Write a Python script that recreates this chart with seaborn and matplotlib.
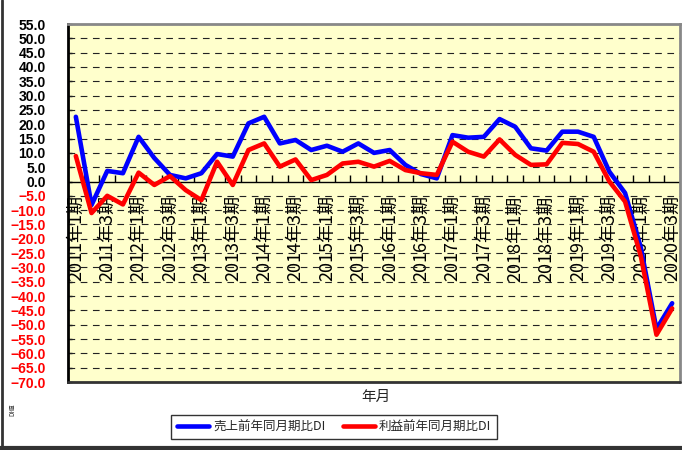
import numpy as np
import pandas as pd
import matplotlib
matplotlib.use('Agg')
import matplotlib.pyplot as plt
from matplotlib.ticker import FixedLocator
import seaborn as sns

# quarterly DI values, 2011 Q1 .. 2020 Q3
sales_di = [22.6, -8.2, 3.7, 2.9, 15.6, 8.2, 2.3, 1.1, 2.9, 9.6,
            8.7, 20.3, 22.6, 13.3, 14.5, 11.0, 12.5, 10.4, 13.3, 10.0,
            11.0, 5.8, 2.6, 1.1, 16.2, 15.3, 15.6, 21.8, 19.1, 11.6,
            10.8, 17.4, 17.4, 15.6, 3.4, -4.0, -23.0, -51.5, -42.5]
profit_di = [8.9, -11.0, -5.0, -8.0, 3.1, -1.2, 1.9, -3.0, -6.5, 6.9,
             -1.2, 11.0, 13.3, 5.2, 7.7, 0.5, 2.3, 6.3, 6.9, 5.2,
             7.2, 4.0, 2.9, 2.3, 13.9, 10.4, 8.7, 14.7, 9.3, 5.8,
             6.0, 13.5, 13.1, 10.4, 0.0, -7.0, -26.0, -53.5, -44.3]
quarters = [f'{y}年{q}期' for y in range(2011, 2021) for q in range(1, 5)][:39]
tick_labels = quarters[::2]
y_ticks = np.arange(-70, 56, 5)

sns.set_theme(style='white')
plt.rcParams['font.family'] = ['Noto Sans CJK JP', 'DejaVu Sans']

df = pd.DataFrame({'k': np.arange(len(quarters)),
                   '売上前年同月期比DI': sales_di,
                   '利益前年同月期比DI': profit_di})
long = df.melt(id_vars='k', var_name='series', value_name='DI')

fig = plt.figure(figsize=(6.82, 4.5), dpi=100)
ax = fig.add_axes([68/682, 68/450, 612/682, 358/450])
ax.set_facecolor('#FFFFCC')

for y in y_ticks[1:]:
    if y != 0:
        ax.axhline(y, color='#222222', lw=0.8, ls=(0, (6, 5)), zorder=1)
ax.axhline(0, color='black', lw=1.0, zorder=1)

sns.lineplot(data=long, x='k', y='DI', hue='series',
             palette=['#0000FF', '#FF0000'], lw=3.3, ax=ax,
             legend=False, zorder=3, solid_joinstyle='round', solid_capstyle='round')

ax.set_xlim(-0.5, len(quarters) - 0.5)
ax.set_ylim(-70, 55)

# category axis crossing at zero
ax.spines['bottom'].set_position(('data', 0))
ax.spines['bottom'].set_visible(False)
ax.set_xticks(np.arange(0, len(quarters), 2))
ax.set_xticklabels(tick_labels, rotation=90, fontsize=13, color='black')
ax.xaxis.set_minor_locator(FixedLocator(np.arange(0.5, len(quarters) - 1, 1)))
ax.tick_params(axis='x', which='major', length=0, pad=10)
ax.tick_params(axis='x', which='minor', direction='in', length=5, width=1, color='black', bottom=True)
for lab in ax.get_xticklabels():
    lab.set_va('top')

ax.set_yticks(y_ticks)
ax.set_yticklabels([f'{v:.1f}'.replace('-', '\u2212') for v in y_ticks],
                   fontsize=10, fontweight='bold', family=['Liberation Sans', 'DejaVu Sans'])
for v, lab in zip(y_ticks, ax.get_yticklabels()):
    lab.set_color('#FF0000' if v < 0 else 'black')
ax.tick_params(axis='y', direction='in', length=3, width=1, color='black', pad=16, left=True)

ax.axhline(-70, color='#333333', lw=2, clip_on=False, zorder=4)
ax.spines['left'].set_color('black')
ax.spines['left'].set_linewidth(2)
ax.spines['top'].set_color('#888888')
ax.spines['top'].set_linewidth(2)
ax.spines['right'].set_color('#888888')
ax.spines['right'].set_linewidth(2)

ax.set_xlabel('')
ax.set_ylabel('')
fig.text(376/682, 1 - 397/450, '年月', ha='center', va='center', fontsize=10.5)
fig.text(12/682, 1 - 410/450, 'DI値', ha='center', va='center', fontsize=4.5, rotation=90)

handles = [plt.Line2D([], [], color='#0000FF', lw=3.3),
           plt.Line2D([], [], color='#FF0000', lw=3.3)]
leg = fig.legend(handles, ['売上前年同月期比DI', '利益前年同月期比DI'], ncol=2,
                 loc='center', bbox_to_anchor=(334/682, 1 - 427/450), fontsize=9,
                 frameon=True, fancybox=False, edgecolor='black', handlelength=2.6,
                 handletextpad=0.3, columnspacing=1.4, borderpad=0.45)
leg.get_frame().set_linewidth(1)

# outer frame of the chart area
fig.add_artist(plt.Line2D([1.5/682, 1.5/682], [0, 1], color='#333333', lw=2, transform=fig.transFigure))
fig.add_artist(plt.Line2D([0, 1], [2.5/450, 2.5/450], color='#333333', lw=3, transform=fig.transFigure))

fig.savefig('out.png', dpi=100)
